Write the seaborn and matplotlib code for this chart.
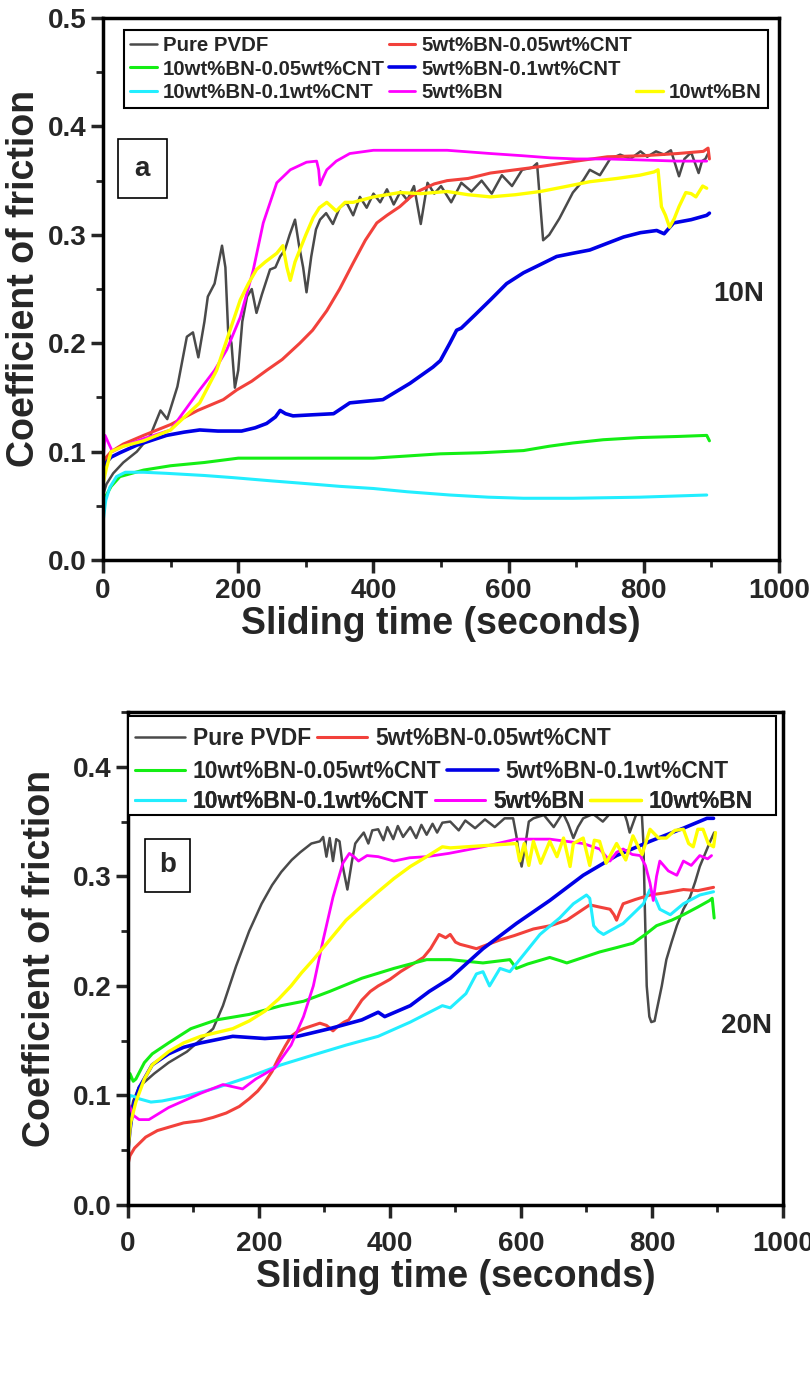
import pandas as pd
import seaborn as sns
import matplotlib.pyplot as plt
from matplotlib.lines import Line2D
from matplotlib.patches import Rectangle
from matplotlib.ticker import MultipleLocator

# ---------------- 10N data (panel a) ----------------
pvdf_10_t = [0, 5, 15, 30, 50, 70, 85, 95, 110, 124, 133, 141, 150, 155, 165, 176, 181, 185, 190, 195,
             200, 206, 213, 220, 227, 235, 247, 255, 262, 269, 276, 284, 290, 296, 301, 308, 315, 321, 330,
             340, 350, 360, 370, 380, 390, 400, 410, 420, 430, 440, 450, 460, 470, 480, 490, 500, 515, 530,
             545, 560, 575, 590, 605, 620, 635, 642, 651, 660, 675, 695, 710, 720, 735, 750, 765, 780, 795,
             805, 818, 830, 840, 852, 860, 870, 881, 886, 891, 895]
pvdf_10_y = [0.06, 0.07, 0.08, 0.09, 0.10, 0.115, 0.138, 0.13, 0.16, 0.206, 0.21, 0.187, 0.22, 0.243, 0.255,
             0.29, 0.27, 0.212, 0.20, 0.159, 0.175, 0.22, 0.243, 0.25, 0.228, 0.245, 0.268, 0.27, 0.28, 0.286,
             0.30, 0.314, 0.29, 0.27, 0.247, 0.28, 0.305, 0.314, 0.32, 0.31, 0.325, 0.33, 0.318, 0.335, 0.325,
             0.338, 0.33, 0.342, 0.328, 0.34, 0.332, 0.345, 0.31, 0.348, 0.338, 0.345, 0.33, 0.348, 0.34, 0.35,
             0.338, 0.355, 0.345, 0.36, 0.362, 0.366, 0.295, 0.30, 0.315, 0.339, 0.35, 0.36, 0.355, 0.37,
             0.374, 0.37, 0.377, 0.372, 0.377, 0.374, 0.378, 0.354, 0.37, 0.376, 0.357, 0.368, 0.37, 0.375]

bn5_005_10_t = [0, 5, 12, 30, 60, 100, 140, 178, 198, 220, 242, 265, 291, 310, 331, 350, 370, 388, 405, 420,
                439, 455, 469, 490, 509, 540, 573, 610, 647, 700, 746, 800, 850, 888, 895, 897]
bn5_005_10_y = [0.08, 0.095, 0.10, 0.107, 0.115, 0.125, 0.138, 0.148, 0.157, 0.165, 0.175, 0.185, 0.20, 0.212,
                0.23, 0.25, 0.274, 0.295, 0.311, 0.318, 0.326, 0.335, 0.341, 0.347, 0.35, 0.352, 0.357, 0.36,
                0.363, 0.368, 0.372, 0.373, 0.375, 0.377, 0.38, 0.37]

bn10_005_10_t = [0, 5, 12, 25, 60, 100, 150, 200, 300, 400, 450, 499, 560, 622, 660, 695, 740, 794, 850, 893, 897]
bn10_005_10_y = [0.05, 0.06, 0.068, 0.077, 0.083, 0.087, 0.09, 0.094, 0.094, 0.094, 0.096, 0.098, 0.099, 0.101,
                 0.105, 0.108, 0.111, 0.113, 0.114, 0.115, 0.11]

bn5_01_10_t = [0, 5, 12, 25, 50, 94, 120, 143, 170, 205, 225, 242, 255, 262, 270, 281, 310, 341, 365, 414, 454,
               488, 499, 513, 523, 530, 550, 573, 597, 622, 645, 671, 695, 720, 745, 770, 795, 819, 830, 844,
               870, 893, 897]
bn5_01_10_y = [0.08, 0.09, 0.095, 0.099, 0.106, 0.115, 0.118, 0.12, 0.119, 0.119, 0.122, 0.126, 0.132, 0.138,
               0.135, 0.133, 0.134, 0.135, 0.145, 0.148, 0.163, 0.178, 0.184, 0.2, 0.212, 0.214, 0.226, 0.24,
               0.255, 0.265, 0.272, 0.28, 0.283, 0.286, 0.292, 0.298, 0.302, 0.304, 0.301, 0.311, 0.314, 0.318,
               0.32]

bn10_01_10_t = [0, 4, 10, 20, 33, 60, 94, 150, 193, 250, 291, 350, 400, 450, 513, 570, 622, 695, 794, 893]
bn10_01_10_y = [0.035, 0.055, 0.067, 0.077, 0.081, 0.081, 0.08, 0.078, 0.076, 0.073, 0.071, 0.068, 0.066, 0.063,
                0.06, 0.058, 0.057, 0.057, 0.058, 0.06]

bn5_10_t = [0, 3, 8, 14, 30, 60, 100, 143, 165, 183, 203, 222, 237, 257, 277, 301, 316, 319, 321, 325, 331, 345,
            365, 400, 439, 509, 573, 620, 662, 700, 746, 800, 850, 893]
bn5_10_y = [0.09, 0.115, 0.108, 0.10, 0.105, 0.112, 0.12, 0.157, 0.175, 0.194, 0.224, 0.267, 0.311, 0.348, 0.36,
            0.367, 0.368, 0.36, 0.346, 0.352, 0.36, 0.368, 0.375, 0.378, 0.378, 0.378, 0.375, 0.373, 0.371, 0.37,
            0.37, 0.369, 0.368, 0.368]

bn10_10_t = [0, 5, 12, 30, 60, 100, 143, 168, 183, 203, 215, 227, 240, 257, 266, 272, 277, 284, 291, 300, 311,
             320, 331, 345, 358, 370, 400, 439, 470, 509, 540, 573, 610, 647, 680, 720, 760, 794, 815, 821, 826,
             832, 838, 845, 852, 862, 870, 877, 887, 893]
bn10_10_y = [0.07, 0.085, 0.10, 0.105, 0.11, 0.12, 0.145, 0.175, 0.203, 0.24, 0.255, 0.268, 0.275, 0.283, 0.29,
             0.27, 0.258, 0.275, 0.286, 0.30, 0.316, 0.325, 0.33, 0.322, 0.33, 0.33, 0.335, 0.339, 0.338, 0.34,
             0.337, 0.335, 0.337, 0.34, 0.344, 0.349, 0.352, 0.355, 0.358, 0.36, 0.326, 0.318, 0.307, 0.315,
             0.326, 0.339, 0.338, 0.335, 0.345, 0.343]

# ---------------- 20N data (panel b) ----------------
pvdf_20_t = [0, 3, 8, 17, 40, 62, 90, 111, 130, 145, 165, 185, 204, 220, 234, 250, 263, 280, 293, 298, 303,
             308, 313, 318, 323, 328, 335, 342, 347, 352, 360, 367, 373, 382, 390, 396, 405, 412, 420, 431, 440,
             448, 456, 465, 472, 480, 492, 505, 515, 530, 545, 560, 575, 588, 593, 597, 601, 607, 612, 619, 635,
             650, 664, 672, 680, 687, 695, 710, 725, 740, 756, 762, 766, 775, 784, 787, 789, 792, 796, 799, 804,
             807, 815, 822, 830, 838, 848, 858, 866, 873, 882, 889, 895]
pvdf_20_y = [0.06, 0.08, 0.095, 0.108, 0.12, 0.13, 0.14, 0.151, 0.161, 0.182, 0.218, 0.25, 0.275, 0.292, 0.304,
             0.315, 0.322, 0.33, 0.332, 0.336, 0.318, 0.335, 0.314, 0.334, 0.332, 0.309, 0.288, 0.314, 0.33,
             0.334, 0.34, 0.33, 0.342, 0.343, 0.333, 0.345, 0.334, 0.346, 0.336, 0.345, 0.335, 0.347, 0.338,
             0.348, 0.34, 0.349, 0.35, 0.342, 0.351, 0.344, 0.352, 0.345, 0.353, 0.353, 0.337, 0.32, 0.309,
             0.33, 0.35, 0.353, 0.356, 0.345, 0.358, 0.348, 0.335, 0.345, 0.353, 0.357, 0.35, 0.36, 0.361,
             0.35, 0.34, 0.355, 0.363, 0.33, 0.275, 0.2, 0.172, 0.167, 0.168, 0.177, 0.2, 0.224, 0.24, 0.255,
             0.27, 0.281, 0.295, 0.309, 0.322, 0.332, 0.34]

bn5_005_20_t = [0, 3, 10, 27, 45, 62, 85, 111, 130, 150, 170, 185, 198, 209, 220, 229, 240, 249, 258, 268, 283,
                293, 303, 313, 320, 330, 337, 347, 357, 370, 382, 400, 416, 435, 451, 462, 475, 485, 492, 500,
                507, 520, 532, 550, 568, 590, 619, 645, 670, 690, 705, 720, 736, 742, 746, 751, 756, 775, 797,
                820, 848, 870, 894]
bn5_005_20_y = [0.037, 0.045, 0.052, 0.062, 0.068, 0.071, 0.075, 0.077, 0.08, 0.084, 0.09, 0.097, 0.104, 0.112,
                0.122, 0.133, 0.145, 0.154, 0.158, 0.161, 0.164, 0.166, 0.164, 0.159, 0.163, 0.167, 0.169,
                0.178, 0.187, 0.195, 0.2, 0.206, 0.213, 0.22, 0.226, 0.234, 0.247, 0.244, 0.247, 0.24, 0.238,
                0.236, 0.234, 0.238, 0.242, 0.246, 0.252, 0.255, 0.26, 0.268, 0.274, 0.272, 0.27, 0.265, 0.26,
                0.268, 0.275, 0.279, 0.283, 0.285, 0.288, 0.287, 0.29]

bn10_005_20_t = [0, 3, 8, 12, 25, 37, 62, 96, 135, 185, 234, 268, 308, 357, 406, 456, 492, 542, 583, 593, 610,
                 644, 660, 670, 695, 720, 746, 771, 790, 807, 830, 848, 870, 888, 892, 895]
bn10_005_20_y = [0.11, 0.12, 0.113, 0.115, 0.13, 0.138, 0.148, 0.161, 0.169, 0.174, 0.182, 0.186, 0.195, 0.207,
                 0.216, 0.224, 0.224, 0.221, 0.224, 0.216, 0.22, 0.226, 0.223, 0.221, 0.226, 0.231, 0.235, 0.239,
                 0.247, 0.255, 0.26, 0.265, 0.272, 0.278, 0.28, 0.262]

bn5_01_20_t = [0, 3, 8, 17, 37, 62, 85, 111, 160, 209, 259, 308, 357, 382, 392, 431, 460, 492, 542, 593, 644,
               695, 746, 797, 848, 884, 894]
bn5_01_20_y = [0.05, 0.068, 0.09, 0.107, 0.128, 0.138, 0.144, 0.148, 0.154, 0.152, 0.154, 0.161, 0.169, 0.176,
               0.172, 0.182, 0.195, 0.207, 0.234, 0.257, 0.278, 0.301, 0.319, 0.332, 0.344, 0.353, 0.353]

bn10_01_20_t = [0, 3, 10, 17, 35, 52, 86, 135, 185, 234, 283, 333, 382, 431, 480, 492, 516, 532, 542, 552, 568,
                583, 598, 629, 659, 680, 700, 705, 711, 718, 726, 756, 787, 797, 805, 812, 828, 848, 873, 894]
bn10_01_20_y = [0.09, 0.10, 0.099, 0.097, 0.094, 0.095, 0.099, 0.107, 0.117, 0.128, 0.137, 0.146, 0.154, 0.167,
                0.182, 0.18, 0.193, 0.211, 0.213, 0.20, 0.216, 0.213, 0.224, 0.247, 0.262, 0.275, 0.283, 0.28,
                0.255, 0.25, 0.247, 0.257, 0.275, 0.288, 0.28, 0.27, 0.265, 0.275, 0.283, 0.286]

bn5_20_t = [0, 2, 8, 17, 32, 62, 111, 145, 160, 175, 195, 224, 249, 268, 283, 298, 313, 328, 338, 345, 352, 365,
            382, 406, 430, 456, 490, 542, 593, 644, 695, 720, 736, 746, 756, 770, 782, 790, 797, 802, 807, 812,
            825, 838, 848, 860, 873, 885, 891]
bn5_20_y = [0.085, 0.091, 0.082, 0.078, 0.078, 0.089, 0.102, 0.11, 0.108, 0.106, 0.115, 0.125, 0.146, 0.172, 0.20,
            0.242, 0.281, 0.312, 0.321, 0.318, 0.314, 0.319, 0.318, 0.314, 0.317, 0.318, 0.321, 0.327, 0.334,
            0.334, 0.33, 0.325, 0.314, 0.322, 0.325, 0.32, 0.319, 0.31, 0.294, 0.278, 0.30, 0.314, 0.305, 0.301,
            0.314, 0.31, 0.319, 0.316, 0.319]

bn10_20_t = [0, 4, 12, 25, 37, 62, 85, 111, 160, 185, 209, 230, 249, 265, 283, 308, 333, 357, 382, 406, 431, 456,
             480, 492, 542, 593, 598, 605, 612, 619, 630, 644, 655, 665, 675, 680, 695, 705, 712, 720, 730, 746,
             760, 771, 785, 797, 810, 822, 835, 848, 856, 863, 870, 878, 886, 894, 897]
bn10_20_y = [0.05, 0.075, 0.094, 0.115, 0.128, 0.14, 0.148, 0.154, 0.161, 0.168, 0.177, 0.188, 0.20, 0.212, 0.224,
             0.242, 0.26, 0.273, 0.286, 0.298, 0.309, 0.318, 0.327, 0.326, 0.328, 0.33, 0.314, 0.33, 0.31, 0.332,
             0.312, 0.332, 0.318, 0.335, 0.309, 0.33, 0.335, 0.31, 0.333, 0.332, 0.312, 0.33, 0.315, 0.337, 0.32,
             0.343, 0.335, 0.335, 0.342, 0.343, 0.33, 0.327, 0.343, 0.343, 0.33, 0.327, 0.34]

labels = ['Pure PVDF', '5wt%BN-0.05wt%CNT', '10wt%BN-0.05wt%CNT', '5wt%BN-0.1wt%CNT',
          '10wt%BN-0.1wt%CNT', '5wt%BN', '10wt%BN']
colors = ['#4a4a4a', '#f2413b', '#14ee14', '#0000e6', '#22eeff', '#ff00ff', '#ffff00']
widths = [1.8, 2.2, 2.2, 2.6, 2.2, 2.0, 2.4]

data_10 = [(pvdf_10_t, pvdf_10_y), (bn5_005_10_t, bn5_005_10_y), (bn10_005_10_t, bn10_005_10_y),
           (bn5_01_10_t, bn5_01_10_y), (bn10_01_10_t, bn10_01_10_y), (bn5_10_t, bn5_10_y),
           (bn10_10_t, bn10_10_y)]
data_20 = [(pvdf_20_t, pvdf_20_y), (bn5_005_20_t, bn5_005_20_y), (bn10_005_20_t, bn10_005_20_y),
           (bn5_01_20_t, bn5_01_20_y), (bn10_01_20_t, bn10_01_20_y), (bn5_20_t, bn5_20_y),
           (bn10_20_t, bn10_20_y)]

sns.set_theme(style='ticks')
plt.rcParams['font.family'] = ['Liberation Sans', 'DejaVu Sans']
plt.rcParams['font.weight'] = 'bold'
plt.rcParams['axes.labelweight'] = 'bold'


def draw_lines(ax, data):
    for (t, y), lab, col, lw in zip(data, labels, colors, widths):
        df = pd.DataFrame({'time': t, 'cof': y})
        sns.lineplot(data=df, x='time', y='cof', color=col, lw=lw, ax=ax,
                     estimator=None, sort=False, legend=False)


def style_axes(ax, ymax, ytop, xpad):
    ax.set_xlim(0, 1000)
    ax.set_ylim(0, ymax)
    ax.set_xticks(range(0, 1001, 200))
    ax.set_yticks([v / 10 for v in range(0, int(ytop * 10) + 1)])
    ax.set_yticklabels([f'{v / 10:.1f}' for v in range(0, int(ytop * 10) + 1)])
    ax.xaxis.set_minor_locator(MultipleLocator(100))
    ax.yaxis.set_minor_locator(MultipleLocator(0.05))
    ax.tick_params(which='major', direction='out', length=9, width=2.5, labelsize=20, pad=3)
    ax.tick_params(axis='x', which='major', pad=xpad)
    ax.tick_params(which='minor', direction='out', length=5, width=2)
    for lab in ax.get_xticklabels() + ax.get_yticklabels():
        lab.set_fontweight('bold')
    for sp in ax.spines.values():
        sp.set_linewidth(2.5)
        sp.set_color('black')
    ax.set_xlabel('Sliding time (seconds)', fontsize=27, fontweight='bold')
    ax.set_ylabel('Coefficient of friction', fontsize=27, fontweight='bold')


fig = plt.figure(figsize=(8.1, 13.97), dpi=100)
ax1 = fig.add_axes([0.1272, 0.5991, 0.8346, 0.3880])
ax2 = fig.add_axes([0.1580, 0.1374, 0.8086, 0.3529])

# panel a
draw_lines(ax1, data_10)
style_axes(ax1, 0.5, 0.5, 4)
ax1.xaxis.set_label_coords(0.5, -0.085)
ax1.yaxis.set_label_coords(-0.09, 0.52)
ax1.text(58, 0.361, 'a', fontsize=20, fontweight='bold', ha='center', va='center',
         bbox=dict(boxstyle='square,pad=0.6', fc='white', ec='black', lw=1.2))
ax1.text(940, 0.245, '10N', fontsize=20, fontweight='bold', ha='center', va='center')

blank = Line2D([], [], color='none')
h = [Line2D([], [], color=c, lw=w) for c, w in zip(colors, widths)]
handles_a = [h[0], h[2], h[4], h[1], h[3], h[5], blank, blank, h[6]]
labels_a = [labels[0], labels[2], labels[4], labels[1], labels[3], labels[5], '', '', labels[6]]
leg = ax1.legend(handles_a, labels_a, ncol=3, loc='upper left', bbox_to_anchor=(0.031, 0.978),
                 frameon=True, fancybox=False, edgecolor='black', framealpha=1, borderpad=0.3,
                 borderaxespad=0, handlelength=1.3, handletextpad=0.3, columnspacing=0.2,
                 labelspacing=0.22, prop=dict(weight='bold', size=14.7))
leg.get_frame().set_linewidth(1.5)

# panel b
draw_lines(ax2, data_20)
style_axes(ax2, 0.45, 0.4, 10)
ax2.xaxis.set_label_coords(0.5, -0.11)
ax2.yaxis.set_label_coords(-0.107, 0.5)
ax2.text(60, 0.31, 'b', fontsize=20, fontweight='bold', ha='center', va='center',
         bbox=dict(boxstyle='square,pad=0.5', fc='white', ec='black', lw=1.2))
ax2.text(945, 0.163, '20N', fontsize=20, fontweight='bold', ha='center', va='center')

box = Rectangle((0.0, 0.791), 0.99, 0.201, transform=ax2.transAxes, fc='white', ec='black',
                lw=1.5, zorder=4)
ax2.add_patch(box)
rows = [([0, 1], 0.946), ([2, 3], 0.880), ([4, 5, 6], 0.818)]
for idx, yy in rows:
    lg = ax2.legend([h[i] for i in idx], [labels[i] for i in idx], ncol=len(idx), loc='center left',
                    bbox_to_anchor=(0.01, yy), frameon=False, borderpad=0, borderaxespad=0,
                    handlelength=2.2, handletextpad=0.35, columnspacing=0.25,
                    prop=dict(weight='bold', size=16.5))
    lg.set_zorder(5)
    ax2.add_artist(lg)

fig.savefig('out.png', dpi=100)
